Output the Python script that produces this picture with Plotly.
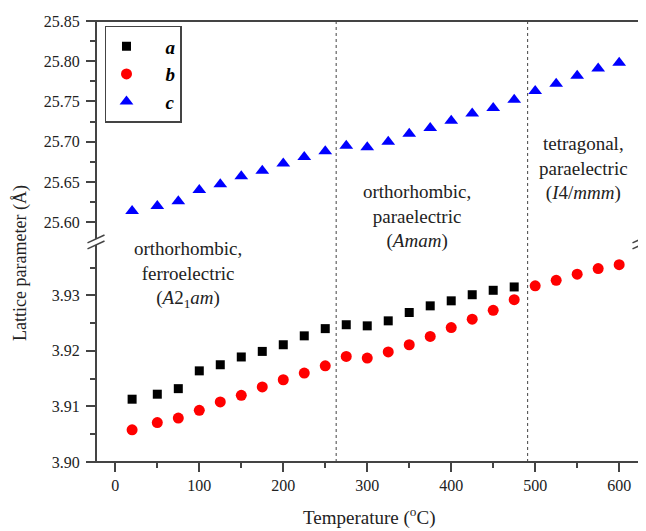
import plotly.graph_objects as go

# ---- data ----
temp_ab = [20, 50, 75, 100, 125, 150, 175, 200, 225, 250, 275, 300, 325, 350, 375, 400, 425, 450, 475]
a_vals = [3.9113, 3.9122, 3.9132, 3.9164, 3.9175, 3.9189, 3.9199, 3.9211, 3.9227, 3.9240,
          3.9247, 3.9245, 3.9254, 3.9269, 3.9281, 3.9290, 3.9301, 3.9309, 3.9315]
temp_all = [20, 50, 75, 100, 125, 150, 175, 200, 225, 250, 275, 300, 325, 350, 375, 400,
            425, 450, 475, 500, 525, 550, 575, 600]
b_vals = [3.9058, 3.9071, 3.9079, 3.9093, 3.9108, 3.9120, 3.9135, 3.9148, 3.9160, 3.9173,
          3.9190, 3.9187, 3.9198, 3.9211, 3.9226, 3.9242, 3.9257, 3.9273, 3.9292,
          3.9317, 3.9327, 3.9338, 3.9348, 3.9355]
c_vals = [25.614, 25.620, 25.626, 25.640, 25.647, 25.657, 25.664, 25.673, 25.681, 25.688,
          25.695, 25.693, 25.700, 25.710, 25.717, 25.726, 25.735, 25.742, 25.752,
          25.763, 25.772, 25.782, 25.791, 25.798]
phase_boundaries = [263, 491]
x_ticks = [0, 100, 200, 300, 400, 500, 600]
x_minor = [50, 150, 250, 350, 450, 550]
y_low_ticks = [3.90, 3.91, 3.92, 3.93]
y_low_minor = [3.905, 3.915, 3.925, 3.935]
y_up_ticks = [25.60, 25.65, 25.70, 25.75, 25.80, 25.85]
y_up_minor = [25.625, 25.675, 25.725, 25.775, 25.825]

FONT = "Liberation Serif"
AX = "#444444"
BREAK = 0.499

fig = go.Figure()
fig.add_trace(go.Scatter(x=temp_ab, y=a_vals, mode="markers",
                         name="&nbsp;&nbsp;&nbsp;&nbsp;<b><i>a</i></b>",
                         marker=dict(symbol="square", size=9, color="black"), yaxis="y"))
fig.add_trace(go.Scatter(x=temp_all, y=b_vals, mode="markers",
                         name="&nbsp;&nbsp;&nbsp;&nbsp;<b><i>b</i></b>",
                         marker=dict(symbol="circle", size=11, color="#ff0000"), yaxis="y"))
fig.add_trace(go.Scatter(x=temp_all, y=c_vals, mode="markers",
                         name="&nbsp;&nbsp;&nbsp;&nbsp;<b><i>c</i></b>",
                         marker=dict(symbol="triangle-up", size=12, color="#0000ff"), yaxis="y2"))

tickfont = dict(family=FONT, size=16, color="#222")
common = dict(ticks="outside", ticklen=9, tickwidth=1.5, tickcolor=AX, showgrid=False,
              zeroline=False, showline=False, tickfont=tickfont, tickmode="array")
minor_common = dict(tickmode="array", ticks="outside", ticklen=5, tickwidth=1.5,
                    tickcolor=AX, showgrid=False)
fig.update_layout(
    width=638, height=523,
    margin=dict(l=88, r=5, t=9, b=69),
    paper_bgcolor="white", plot_bgcolor="white",
    font=dict(family=FONT, color="#222"),
    xaxis=dict(range=[-23, 626], tickvals=x_ticks, anchor="y",
               minor=dict(tickvals=x_minor, **minor_common), **common),
    yaxis=dict(domain=[0, BREAK], range=[3.90, 3.9396], tickvals=y_low_ticks,
               tickformat=".2f", anchor="x", ticklabelstandoff=3,
               minor=dict(tickvals=y_low_minor, **minor_common), **common),
    yaxis2=dict(domain=[BREAK, 1], range=[25.5754, 25.85], tickvals=y_up_ticks,
                tickformat=".2f", anchor="x", ticklabelstandoff=3,
                minor=dict(tickvals=y_up_minor, **minor_common), **common),
    legend=dict(x=0.0165, y=0.989, xanchor="left", yanchor="top",
                bordercolor=AX, borderwidth=1.5, bgcolor="white",
                font=dict(family=FONT, size=19, color="black"), itemwidth=30),
    showlegend=True,
)

shapes = []
# frame
shapes.append(dict(type="rect", xref="paper", yref="paper", x0=0, x1=1, y0=0, y1=1,
                   line=dict(color=AX, width=2), layer="above"))
# phase boundaries
for xb in phase_boundaries:
    shapes.append(dict(type="line", xref="x", yref="paper", x0=xb, x1=xb, y0=0, y1=1,
                       line=dict(color=AX, width=1, dash="dot")))
# axis breaks (left and right)
for xp in [0, 1]:
    shapes.append(dict(type="rect", xref="paper", yref="paper",
                       x0=xp - 0.006, x1=xp + 0.006, y0=BREAK - 0.0068, y1=BREAK + 0.0068,
                       fillcolor="white", line=dict(width=0), layer="above"))
    for dy in [-0.0068, 0.0068]:
        shapes.append(dict(type="line", xref="paper", yref="paper",
                           x0=xp - 0.0156, x1=xp + 0.0156,
                           y0=BREAK + dy - 0.009, y1=BREAK + dy + 0.009,
                           line=dict(color=AX, width=1.5), layer="above"))
fig.update_layout(shapes=shapes)

ann_font = dict(family=FONT, size=19, color="#222")
fig.add_annotation(x=87, y=0.425, xref="x", yref="paper", showarrow=False, font=ann_font,
                   xanchor="center", yanchor="middle",
                   text="orthorhombic,<br>ferroelectric<br>(<i>A</i>2<sub>1</sub><i>am</i>)")
fig.add_annotation(x=359, y=0.557, xref="x", yref="paper", showarrow=False, font=ann_font,
                   xanchor="center", yanchor="middle",
                   text="orthorhombic,<br>paraelectric<br>(<i>Amam</i>)")
fig.add_annotation(x=557, y=0.665, xref="x", yref="paper", showarrow=False, font=ann_font,
                   xanchor="center", yanchor="middle",
                   text="tetragonal,<br>paraelectric<br>(<i>I</i>4/<i>mmm</i>)")
# axis titles
fig.add_annotation(x=-0.139, y=0.452, xref="paper", yref="paper", showarrow=False,
                   xanchor="center", yanchor="middle",
                   textangle=-90, font=dict(family=FONT, size=18, color="#222"),
                   text="Lattice parameter (Å)")
fig.add_annotation(x=0.5, y=-0.124, xref="paper", yref="paper", showarrow=False,
                   xanchor="center", yanchor="middle",
                   font=dict(family=FONT, size=19, color="#222"),
                   text="Temperature (<sup>o</sup>C)")

fig.write_html("out.html")
